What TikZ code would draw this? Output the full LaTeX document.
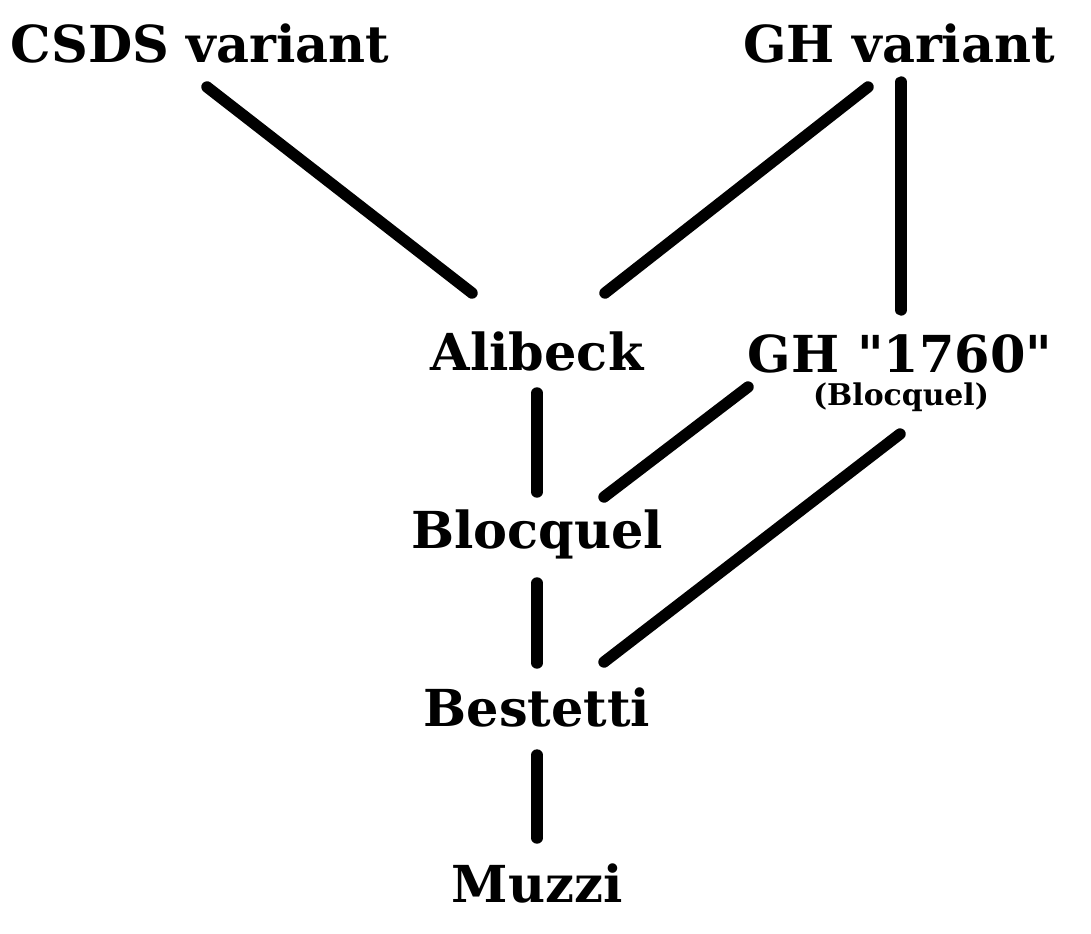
\documentclass[tikz,border=0pt]{standalone}
\usepackage{fontspec}
\setmainfont{DejaVu Serif}
\usetikzlibrary{calc}
\tikzstyle{ed} = [font=\bfseries\fontsize{29}{34}\selectfont, inner sep=0pt, anchor=base]
\tikzstyle{ednote} = [font=\bfseries\fontsize{17}{20}\selectfont, inner sep=0pt, anchor=base]

\begin{document}
\begin{tikzpicture}[x=0.02cm,y=-0.02cm,line width=6.5pt,line cap=round]
  \useasboundingbox (0,0) rectangle (1091,933);

  \node[ed] (csds)     at (200,62)  {CSDS variant};
  \node[ed] (ghvar)    at (899,62)  {GH variant};
  \node[ed] (alibeck)  at (537,370) {Alibeck};
  \node[ed] (gh1760)   at (900,372) {GH \textquotedbl1760\textquotedbl};
  \node[ednote] (ghnote) at (901,405) {(Blocquel)};
  \node[ed] (blocquel) at (537,548) {Blocquel};
  \node[ed] (bestetti) at (537,726) {Bestetti};
  \node[ed] (muzzi)    at (537,902) {Muzzi};

  \draw ($(csds.base)+(7,25)$) -- ($(alibeck.base)+(-65,-77)$);
  \draw ($(ghvar.base)+(-31,25)$) -- ($(alibeck.base)+(68,-77)$);
  \draw ($(ghvar.base)+(2,20)$) -- ($(gh1760.base)+(1,-62)$);
  \draw ($(alibeck.base)+(0,23)$) -- ($(blocquel.base)+(0,-56)$);
  \draw ($(gh1760.base)+(-152,15)$) -- ($(blocquel.base)+(67,-51)$);
  \draw ($(ghnote.base)+(-1,29)$) -- ($(bestetti.base)+(67,-64)$);
  \draw ($(blocquel.base)+(0,35)$) -- ($(bestetti.base)+(0,-63)$);
  \draw ($(bestetti.base)+(0,29)$) -- ($(muzzi.base)+(0,-64)$);
\end{tikzpicture}
\end{document}
